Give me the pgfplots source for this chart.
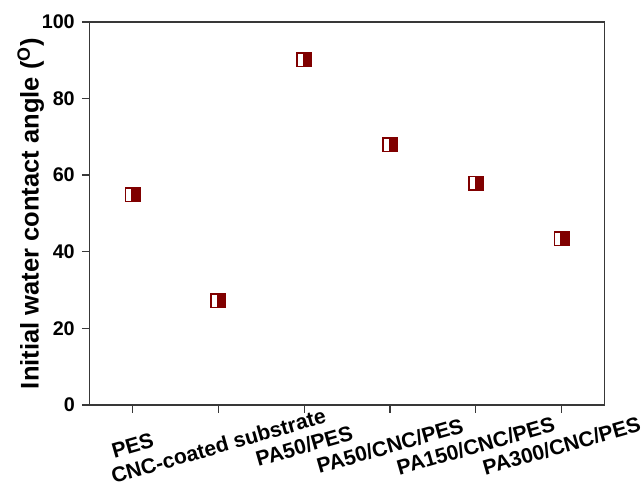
\documentclass[border=0pt]{standalone}
\usepackage{pgfplots}
\pgfplotsset{compat=1.18}
\usepackage{fontspec}
\setmainfont{Liberation Sans}
\definecolor{maroonc}{RGB}{128,0,0}
\pgfdeclareplotmark{hsq}{%
  \pgfpathrectangle{\pgfpoint{-\pgfplotmarksize}{-0.95\pgfplotmarksize}}{\pgfpoint{2\pgfplotmarksize}{1.9\pgfplotmarksize}}%
  \pgfsetfillcolor{maroonc}\pgfusepath{fill}%
  \pgfpathrectangle{\pgfpoint{-0.78\pgfplotmarksize}{-0.75\pgfplotmarksize}}{\pgfpoint{0.63\pgfplotmarksize}{1.5\pgfplotmarksize}}%
  \pgfsetfillcolor{white}\pgfusepath{fill}%
}
\begin{document}
\begin{tikzpicture}
\path (-45pt,-40.5pt) rectangle (276pt,203pt);
\begin{axis}[
  at={(0,0)}, anchor=south west,
  scale only axis,
  width=258pt, height=192pt,
  xmin=-0.5, xmax=5.5, ymin=0, ymax=100,
  ytick={0,20,...,100},
  xtick={0,...,5},
  xticklabels={PES,CNC-coated substrate,PA50/PES,PA50/CNC/PES,PA150/CNC/PES,PA300/CNC/PES},
  xticklabel style={yshift=-16.5pt, rotate=16, anchor=center, inner sep=0pt, font=\fontsize{10.6}{11}\selectfont\bfseries},
  yticklabel style={font=\fontsize{9.9}{10}\selectfont\bfseries},
  /pgf/number format/assume math mode=true,
  tick pos=left, tick align=outside,
  major tick length=4pt,
  axis line style={draw=black!78, line width=0.7pt},
  every tick/.style={draw=black!78, line width=0.7pt},
  ylabel={Initial water contact angle (\textsuperscript{O})},
  ylabel style={font=\fontsize{12.8}{14}\selectfont\bfseries},
  ylabel shift=-8pt,
]
\addplot[only marks, mark=hsq, mark size=4pt]
  coordinates {(0,54.9) (1,27.2) (2,90.1) (3,67.9) (4,57.9) (5,43.4)};
\end{axis}
\end{tikzpicture}
\end{document}
